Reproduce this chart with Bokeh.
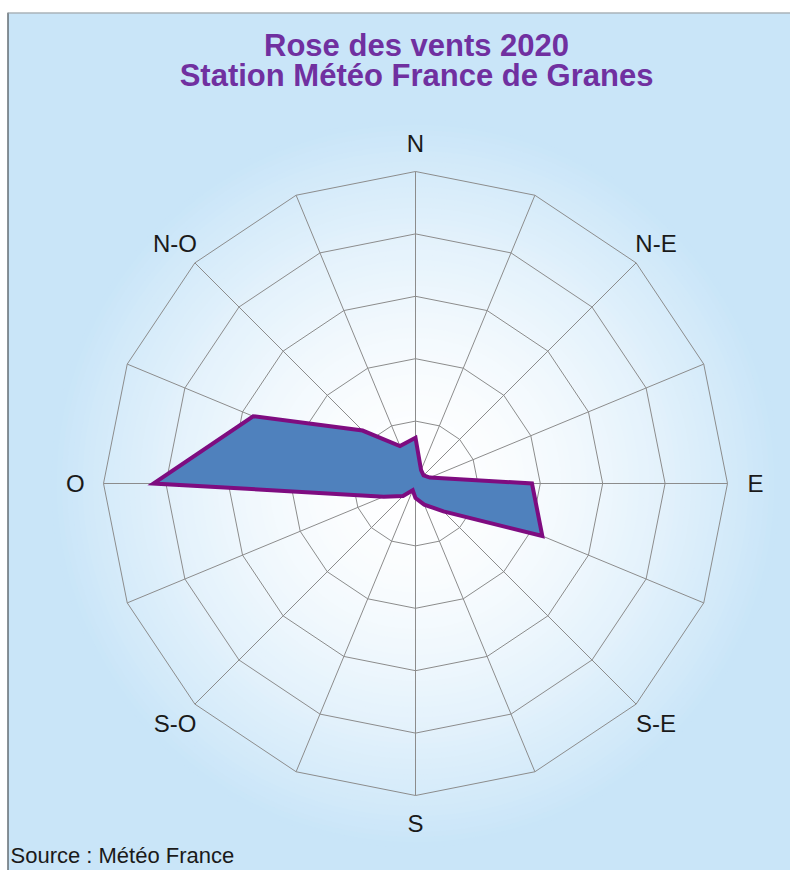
import numpy as np
from bokeh.plotting import figure
from bokeh.models import Range1d, Span, Label, ColumnDataSource
from bokeh.core.properties import value
from bokeh.embed import file_html
from bokeh.resources import INLINE

# ---- data (wind direction frequencies, %, clockwise from North) ----
directions = ["N", "NNE", "NE", "ENE", "E", "ESE", "SE", "SSE",
              "S", "SSO", "SO", "OSO", "O", "ONO", "NO", "NNO"]
frequencies = [4.4, 1.4, 1.1, 1.5, 11.2, 13.2, 3.8, 2.2,
               1.4, 0.7, 1.7, 3.3, 25.2, 16.9, 7.2, 3.9]
ring_levels = [6, 12, 18, 24, 30]
label_names = ["N", "N-E", "E", "S-E", "S", "S-O", "O", "N-O"]
title_lines = ["Rose des vents 2020", "Station Météo France de Granes"]
source_text = "Source : Météo France"

# ---- styling ----
BG = "#C9E5F8"
GRID = "#8C8C8C"
PURPLE = "#7030A0"
FONT = "Liberation Sans"
PX = 10.4  # pixels per unit

W, H = 790, 870
LEFT, TOP = 7, 12
CX, CY = 415, 483  # centre in figure pixels
FW, FH = W - LEFT, H - TOP
cx_f, cy_f = CX - LEFT, CY - TOP

p = figure(width=W, height=H,
           x_range=Range1d(-cx_f / PX, (FW - cx_f) / PX),
           y_range=Range1d(-(FH - cy_f) / PX, cy_f / PX),
           x_axis_type=None, y_axis_type=None,
           toolbar_location=None, output_backend="svg",
           min_border_left=LEFT, min_border_right=0,
           min_border_top=TOP, min_border_bottom=0,
           border_fill_color="white", background_fill_color=BG,
           outline_line_color=None)

# radial gradient (white centre -> light blue)
def lerp_color(c1, c2, t):
    a = [int(c1[i:i + 2], 16) for i in (1, 3, 5)]
    b = [int(c2[i:i + 2], 16) for i in (1, 3, 5)]
    return "#%02x%02x%02x" % tuple(int(round(a[k] + (b[k] - a[k]) * t)) for k in range(3))

R_grad = 35.0
n_steps = 70
radii = [R_grad * (1 - k / n_steps) for k in range(n_steps)]
cols = [lerp_color("#FFFFFF", BG, min(1.0, (r / R_grad) ** 1.7)) for r in radii]
p.circle(x=[0] * n_steps, y=[0] * n_steps, radius=radii,
         fill_color=cols, line_color=None)

n = len(directions)
theta = np.deg2rad(np.arange(n) * 360.0 / n)
sin_t, cos_t = np.sin(theta), np.cos(theta)

# rings (16-gons)
ring_xs = [list(r * sin_t) for r in ring_levels]
ring_ys = [list(r * cos_t) for r in ring_levels]
p.patches(ring_xs, ring_ys, fill_color=None, line_color=GRID, line_width=1)

# spokes
rmax = ring_levels[-1]
p.segment(x0=[0] * n, y0=[0] * n, x1=list(rmax * sin_t), y1=list(rmax * cos_t),
          line_color=GRID, line_width=1)

# data polygon
vals = np.array(frequencies)
src = ColumnDataSource(dict(x=list(vals * sin_t), y=list(vals * cos_t)))
p.patch("x", "y", source=src, fill_color="#4F81BD", line_color="#7E0C80",
        line_width=4, line_join="miter")

# direction labels
lab_r = 32.7
lab_theta = np.deg2rad(np.arange(len(label_names)) * 45.0)
p.text(x=list(lab_r * np.sin(lab_theta)), y=list(lab_r * np.cos(lab_theta)),
       text=label_names, text_align="center", text_baseline="middle",
       text_font=value(FONT), text_font_size="24px", text_color="#1A1A1A")

# title
p.text(x=[0.1, 0.1], y=[(CY - 45) / PX, (CY - 75) / PX], text=title_lines,
       text_align="center", text_baseline="middle",
       text_font=value(FONT), text_font_size="31px", text_font_style="bold",
       text_color=PURPLE)

# source
p.add_layout(Label(x=(10 - CX) / PX, y=(CY - 855) / PX, text=source_text,
                   text_align="left", text_baseline="middle",
                   text_font=FONT, text_font_size="22px", text_color="#1A1A1A"))

# frame borders (left and top)
p.add_layout(Span(location=-cx_f / PX, dimension="height", line_color="#333333", line_width=2))
p.add_layout(Span(location=cy_f / PX, dimension="width", line_color="#9A9A9A", line_width=2))

open("out.html", "w").write(file_html(p, INLINE))
